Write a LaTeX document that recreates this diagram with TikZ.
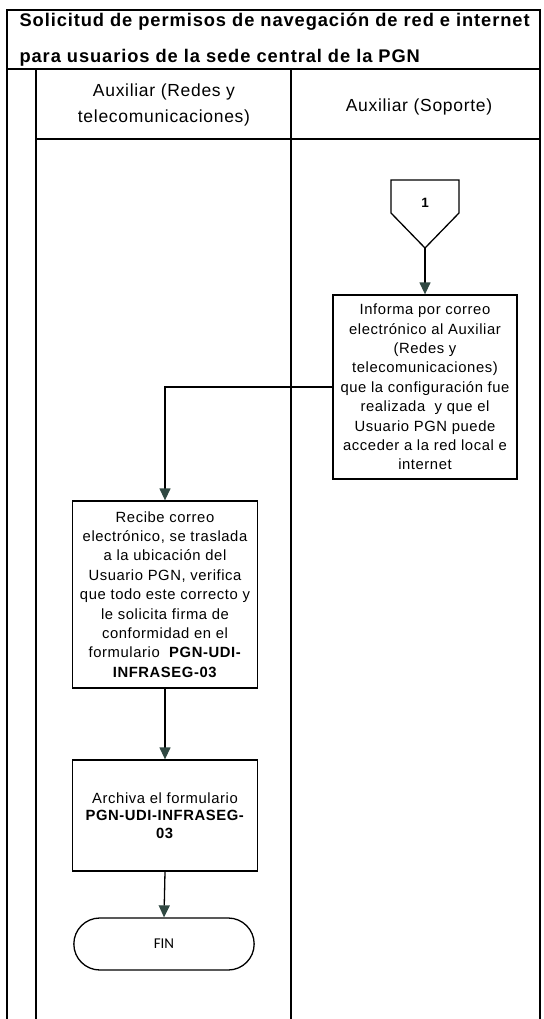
\documentclass[tikz,border=0pt]{standalone}
\usepackage{fontspec}
\setmainfont{Liberation Sans}
\newfontfamily\flowfont[LetterSpace=4]{Liberation Sans}
\newfontfamily\titlefont[LetterSpace=5]{Liberation Sans}
\newfontfamily\endfont{Carlito}
\usetikzlibrary{arrows.meta, positioning, shapes.misc}
\definecolor{tipgray}{RGB}{48,72,66}

\begin{document}
\begin{tikzpicture}[x=1pt, y=-1pt,
  lane/.style={line width=1.3pt},
  procbox/.style={draw, line width=1.3pt, align=center, inner sep=2pt, font=\flowfont\fontsize{14.8}{19.4}\selectfont},
  endbox/.style={draw, line width=1.3pt, rounded rectangle, minimum width=187pt, minimum height=52pt, font=\endfont\fontsize{15}{17}\selectfont},
  offpage/.style={line width=1.3pt},
  flow/.style={line width=1.3pt, -{Triangle[length=12pt, width=11pt, fill=tipgray, color=tipgray]}},
]
\def\W{185} % box width
\useasboundingbox (0,0) rectangle (543,1019);

% Frame and swimlanes
\draw[lane] (7,1019) -- (7,10) -- (540,10) -- (540,1019);
\draw[lane] (7,69) -- (540,69);
\draw[lane] (36,69) -- (36,1019);
\draw[lane] (36,139) -- (540,139);
\draw[lane] (291,69) -- (291,1019);

% Title
\node[anchor=base west, font=\titlefont\bfseries\fontsize{18.3}{22}\selectfont] (title1) at (16,27) {Solicitud de permisos de navegación de red e internet};
\node[anchor=base west, font=\titlefont\bfseries\fontsize{18.3}{22}\selectfont] (title2) at (16,63) {para usuarios de la sede central de la PGN};

% Lane headers
\node[align=center, font=\flowfont\fontsize{17.5}{26}\selectfont] (laneA) at (164,105) {Auxiliar (Redes y\\telecomunicaciones)};
\node[font=\flowfont\fontsize{17.5}{26}\selectfont] (laneB) at (419,107) {Auxiliar (Soporte)};

% === Auxiliar (Soporte) ===
\draw[offpage] (391,180) -- (459,180) -- (459,213) -- (425,248) -- (391,213) -- cycle;
\node[font=\bfseries\fontsize{13.5}{15}\selectfont] (off1) at (425,203) {1};
\coordinate (off1tip) at (425,248);

\node[procbox, minimum width=184pt, minimum height=184pt] (inform) at (425,387)
  {Informa por correo\\electrónico al Auxiliar\\(Redes y\\telecomunicaciones)\\que la configuración fue\\realizada\ \ y que el\\Usuario PGN puede\\acceder a la red local e\\internet};

% === Auxiliar (Redes y telecomunicaciones) ===
\node[procbox, minimum width=\W pt, minimum height=187pt] (recibe) at (165,594.5)
  {Recibe correo\\electrónico, se traslada\\a la ubicación del\\Usuario PGN, verifica\\que todo este correcto y\\le solicita firma de\\conformidad en el\\formulario\ \ \textbf{PGN-UDI-}\\\textbf{INFRASEG-03}};

\node[procbox, minimum width=\W pt, minimum height=111pt, font=\flowfont\fontsize{14.8}{17.5}\selectfont] (archiva) at (165,815.5)
  {Archiva el formulario\\\textbf{PGN-UDI-INFRASEG-}\\\textbf{03}};

\node[endbox] (fin) at (164,944) {FIN};

% Connectors
\draw[flow] (off1tip) -- (inform.north);
\draw[flow] (inform.west) -| (recibe.north);
\draw[flow] (recibe.south) -- (archiva.north);
\draw[flow] (archiva.south) -- (fin.north);
\end{tikzpicture}
\end{document}
